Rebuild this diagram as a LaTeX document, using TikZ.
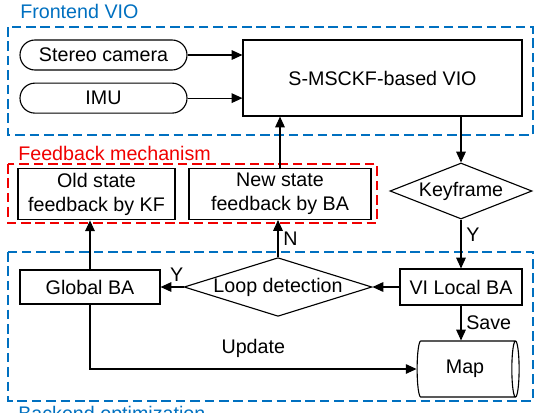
\documentclass[tikz,border=0pt]{standalone}
\usepackage{fontspec}
\setmainfont{Liberation Sans}
\usetikzlibrary{shapes.geometric, arrows.meta, positioning}
\definecolor{vioblue}{RGB}{0,112,192}
\definecolor{fbred}{RGB}{240,0,0}
\tikzstyle{sensor} = [rectangle, draw, rounded corners=0.375cm, minimum width=4.175cm, minimum height=0.75cm, line width=0.8pt]
\tikzstyle{process} = [rectangle, draw, align=center, line width=0.8pt]
\tikzstyle{decision} = [diamond, draw, inner sep=0pt, line width=0.8pt]
\tikzstyle{storage} = [cylinder, draw, shape aspect=0.27, minimum height=2.55cm, minimum width=1.4cm, line width=0.8pt]
\tikzstyle{frame} = [line width=0.8pt, dash pattern=on 2.4mm off 1.2mm]
\tikzstyle{framelabel} = [anchor=base west, inner sep=0pt]
\tikzstyle{arrow} = [line width=0.8pt, -{Triangle[length=2.7mm, width=2.4mm]}]

\begin{document}
\begin{tikzpicture}[font=\fontsize{14}{17}\selectfont]

\useasboundingbox (0,0) rectangle (13.55,-10.3);

% dashed groups
\draw [frame, draw=vioblue] (0.2,-0.675) rectangle (13.325,-3.375);
\draw [frame, draw=fbred] (0.2,-4.1) rectangle (9.425,-5.575);
\draw [frame, draw=vioblue] (0.2,-6.3) rectangle (13.325,-10.025);
\node (frontlabel)	[framelabel, text=vioblue] at (0.5,-0.45)		{Frontend VIO};
\node (fblabel)		[framelabel, text=fbred] at (0.45,-4.0)			{Feedback mechanism};
\node (backlabel)	[framelabel, text=vioblue] at (0.45,-10.5)		{Backend optimization};

\node (vio)		[process, minimum width=6.975cm, minimum height=1.9cm] at (9.5625,-1.95)	{S-MSCKF-based VIO};
\node (stereo)	[sensor] at (2.5875,-1.375)										{Stereo camera};
\node (imu)		[sensor, below=0.3cm of stereo]									{IMU};
\node (keyframe)	[decision, shape aspect=2.5, minimum width=3.55cm, minimum height=1.4cm] at (11.525,-4.775)	{Keyframe};
\node (new)		[process, minimum width=4.55cm, minimum height=1.2cm] at (7.0,-4.85)		{New state\\feedback by BA};
\node (old)		[process, minimum width=3.925cm, minimum height=1.2cm] at (2.4125,-4.85)	{Old state\\feedback by KF};
\node (vilocal)	[process, minimum width=3.05cm, minimum height=0.9cm] at (11.525,-7.175)	{VI Local BA};
\node (loop)		[decision, shape aspect=3.2, minimum width=4.5cm, minimum height=1.4cm] at (6.95,-7.175)	{Loop detection};
\node (global)	[process, minimum width=3.5cm, minimum height=0.85cm] at (2.25,-7.175)	{Global BA};
\node (map)		[storage] at (11.625,-9.225)										{Map};

\draw [arrow] (stereo.east) -- (stereo.east -| vio.west);
\draw [arrow] (imu.east) -- (imu.east -| vio.west);
\draw [arrow] (keyframe.north |- vio.south) -- (keyframe.north);
\draw [arrow] (keyframe.south) -- node [pos=0.3, right] {Y} (vilocal.north);
\draw [arrow] (vilocal.west) -- (loop.east);
\draw [arrow] (loop.west) -- node [pos=0.3, above] {Y} (global.east);
\draw [arrow] (loop.north) -- node [midway, right] {N} (loop.north |- new.south);
\draw [arrow] (new.north) -- (new.north |- vio.south);
\draw [arrow] (global.north) -- (global.north |- old.south);
\draw [arrow] (vilocal.south) -- node [midway, right] {Save} (vilocal.south |- map.north);
\draw [arrow] (global.south) |- node [pos=0.75, above, yshift=0.15cm] {Update} (map.west);

\end{tikzpicture}
\end{document}
